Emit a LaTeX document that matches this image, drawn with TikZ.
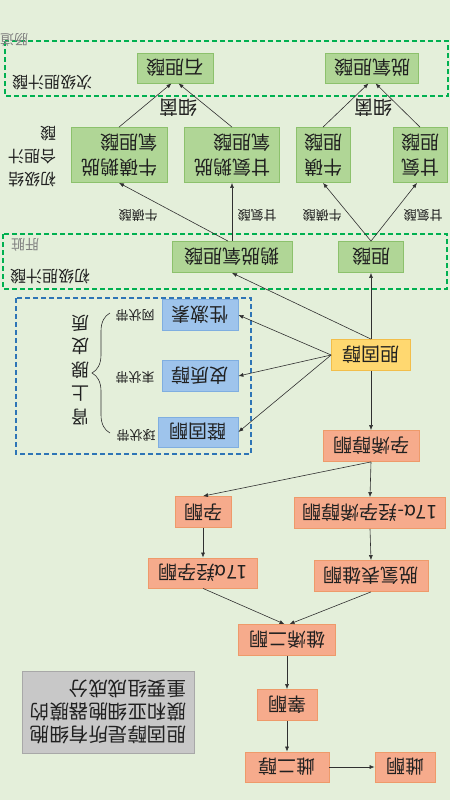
\documentclass[tikz,border=0pt]{standalone}
\usepackage{fontspec}
\setmainfont{Noto Sans CJK SC}
\usetikzlibrary{arrows.meta,decorations.pathreplacing}
\definecolor{bg}{HTML}{E4EFDA}
\definecolor{txt}{HTML}{202020}
\definecolor{lc}{HTML}{303030}
\definecolor{gfill}{HTML}{B0D696}
\definecolor{gdraw}{HTML}{8CC16C}
\definecolor{bfill}{HTML}{9EC4EC}
\definecolor{bdraw}{HTML}{7FAEE0}
\definecolor{ofill}{HTML}{F6AB8C}
\definecolor{odraw}{HTML}{EE9A6A}
\definecolor{yfill}{HTML}{FFD870}
\definecolor{ydraw}{HTML}{F2BE4A}
\definecolor{nfill}{HTML}{C8C8C8}
\definecolor{ndraw}{HTML}{A8A8A8}
\definecolor{gdsh}{HTML}{00B050}
\definecolor{bdsh}{HTML}{2E75B6}
\definecolor{lbl}{HTML}{808080}
\begin{document}
\begin{tikzpicture}[x=1pt,y=-1pt,
  every node/.style={rotate=180,text=txt},
  box/.style={draw,line width=0.8pt,inner sep=0pt,align=center,font=\fontsize{19}{25}\selectfont},
  sz/.style 2 args={minimum width=#1pt,minimum height=#2pt},
  gbox/.style={box,fill=gfill,draw=gdraw},
  bbox/.style={box,fill=bfill,draw=bdraw},
  obox/.style={box,fill=ofill,draw=odraw},
  ybox/.style={box,fill=yfill,draw=ydraw},
  nbox/.style={box,fill=nfill,draw=ndraw,font=\fontsize{19.5}{23}\selectfont},
  arr/.style={-{Latex[length=5pt,width=4pt]},line width=0.6pt,draw=lc},
  small/.style={font=\fontsize{13}{15}\selectfont,inner sep=0pt},
  mid/.style={font=\fontsize{16}{23}\selectfont,inner sep=0pt,align=left},
  gray/.style={font=\fontsize{14}{16}\selectfont,inner sep=0pt,text=lbl},
  gdash/.style={draw=gdsh,line width=1.1pt,dash pattern=on 5pt off 3pt},
  bdash/.style={draw=bdsh,line width=1.1pt,dash pattern=on 5pt off 3pt}
]
\path[use as bounding box,fill=bg] (0,0) rectangle (450,800);

% dashed regions
\draw[gdash] (5,41) rectangle (448,96);
\draw[gdash] (3,234) rectangle (447,289);
\draw[bdash] (16,298) rectangle (251,454);

% region labels
\node[gray] (lgut) at (14,40) {肠道};
\node[mid] (lsec) at (52,83) {次级胆汁酸};
\node[mid] (lconj) at (32,157) {初级结\\合胆汁\\酸};
\node[gray] (lliv) at (25,245) {肝脏};
\node[mid] (lpri) at (50,277) {初级胆汁酸};

% bile acids
\node[gbox,sz={76}{30}] (lca) at (175,68) {石胆酸};
\node[gbox,sz={93}{30}] (dca) at (372,68) {脱氧胆酸};
\node[gbox,sz={96}{55},align=left] (tcdca) at (119,155) {牛磺鹅脱\\氧胆酸};
\node[gbox,sz={95}{55},align=left] (gcdca) at (232,155) {甘氨鹅脱\\氧胆酸};
\node[gbox,sz={54}{55},align=left] (tca) at (323,155) {牛磺\\胆酸};
\node[gbox,sz={54}{55},align=left] (gca) at (420,155) {甘氨\\胆酸};
\node[gbox,sz={120}{31}] (cdca) at (232,257) {鹅脱氧胆酸};
\node[gbox,sz={65}{31}] (ca) at (371,257) {胆酸};

% cholesterol
\node[ybox,sz={79}{31}] (dgy) at (371,355) {胆固醇};

% adrenal cortex
\node[bbox,sz={76}{31}] (sex) at (200,315) {性激素};
\node[bbox,sz={76}{31}] (cort) at (200,376) {皮质醇};
\node[bbox,sz={80}{30}] (aldo) at (198,432) {醛固酮};
\node[small] (zr) at (135,315) {网状带};
\node[small] (zf) at (135,377) {束状带};
\node[small] (zg) at (136,435) {球状带};
\node[font=\fontsize{18}{23.5}\selectfont,inner sep=0pt,align=center] (adr) at (80,370) {肾\\上\\腺\\皮\\质};
\draw[lc,line width=0.6pt,decorate,decoration={brace,amplitude=18pt}] (110,433) -- (110,313);

% steroid hormones
\node[obox,sz={96}{31}] (preg) at (371,446) {孕烯醇酮};
\node[obox,sz={56}{31}] (prog) at (203,512) {孕酮};
\node[obox,sz={151}{31}] (ohpreg) at (370,513) {17α-羟孕烯醇酮};
\node[obox,sz={109}{30}] (ohprog) at (203,573) {17α羟孕酮};
\node[obox,sz={114}{31}] (dhea) at (371,576) {脱氢表雄酮};
\node[obox,sz={97}{31}] (andro) at (287,640) {雄烯二酮};
\node[obox,sz={60}{31}] (testo) at (287,705) {睾酮};
\node[obox,sz={84}{30}] (e2) at (287,767) {雌二醇};
\node[obox,sz={60}{30}] (e1) at (405,767) {雌酮};

% note
\node[nbox,sz={172}{82},align=left] (note) at (108,712) {胆固醇是所有细胞\\膜和亚细胞器膜的\\重要组成成分};

% arrows: bile acids
\draw[arr] (dgy.south) -- (cdca.north);
\draw[arr] (dgy.south) -- (ca.north);
\draw[arr] ([xshift=-4pt]cdca.south) -- (tcdca.north);
\draw[arr] (cdca.south) -- (gcdca.north);
\draw[arr] (ca.south) -- (tca.north);
\draw[arr] (ca.south) -- ([xshift=-3pt]gca.north);
\draw[arr] (tcdca.south) -- ([xshift=-3.5pt]lca.north);
\draw[arr] (gcdca.south) -- ([xshift=3.5pt]lca.north);
\draw[arr] (tca.south) -- ([xshift=-3.5pt]dca.north);
\draw[arr] (gca.south) -- ([xshift=3.5pt]dca.north);
\node[font=\fontsize{19}{21}\selectfont,inner sep=0pt] (bac1) at (178,108) {细菌};
\node[font=\fontsize{19}{21}\selectfont,inner sep=0pt] (bac2) at (373,108) {细菌};
\node[small] (t1) at (138,215) {牛磺酸};
\node[small] (g1) at (257,215) {甘氨酸};
\node[small] (t2) at (322,215) {牛磺酸};
\node[small] (g2) at (423,215) {甘氨酸};

% arrows: adrenal
\draw[arr] ([yshift=0pt]dgy.east) -- (sex.west);
\draw[arr] (dgy.east) -- (cort.west);
\draw[arr] (dgy.east) -- (aldo.west);

% arrows: steroids
\draw[arr] (dgy.north) -- (preg.south);
\draw[arr] (preg.north) -- (prog.south);
\draw[arr] (preg.north) -- (ohpreg.south);
\draw[arr] (prog.north) -- (ohprog.south);
\draw[arr] (ohpreg.north) -- (dhea.south);
\draw[arr] (ohprog.north) -- ([xshift=-2.5pt]andro.south);
\draw[arr] (dhea.north) -- ([xshift=2.5pt]andro.south);
\draw[arr] (andro.north) -- (testo.south);
\draw[arr] (testo.north) -- (e2.south);
\draw[arr] (e2.west) -- (e1.east);
\end{tikzpicture}
\end{document}
